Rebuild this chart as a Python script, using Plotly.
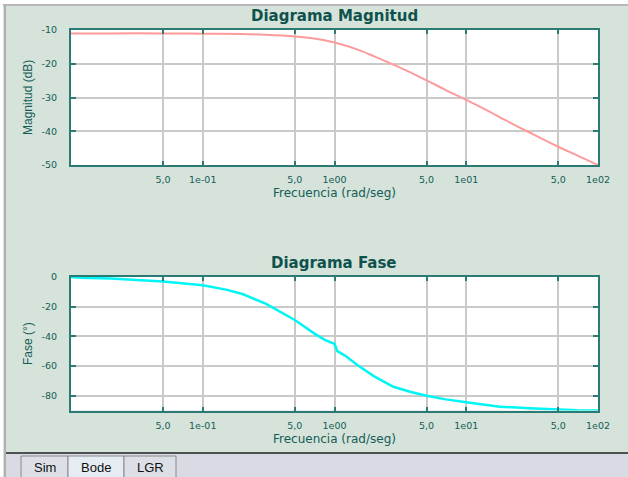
import plotly.graph_objects as go

# ---------------- data ----------------
mag_freq = [0.01, 0.02, 0.05, 0.1, 0.2, 0.3, 0.5, 0.7, 1.0, 1.5, 2, 3, 5, 7, 10, 15, 20, 30, 50, 70, 100]
mag_db = [-11.0, -11.0, -11.0, -11.1, -11.2, -11.4, -11.9, -12.5, -13.7, -15.8, -17.8, -20.8,
          -24.9, -27.8, -30.7, -34.2, -36.8, -40.3, -44.6, -47.2, -50.0]

phase_freq = [0.01, 0.012, 0.02, 0.05, 0.1, 0.15, 0.2, 0.3, 0.5, 0.7, 0.85, 1.0, 1.05, 1.2, 1.5,
              2, 2.8, 3.8, 5, 7, 10, 18, 30, 50, 70, 100]
phase_deg = [0, -0.5, -1, -3, -5.5, -8.5, -11.5, -18, -29, -38, -42.5, -45, -50, -53, -59.5,
             -67, -74, -77.5, -80, -82.5, -84.5, -87.4, -88.5, -89.5, -89.8, -90]

x_tickvals = [0.05, 0.1, 0.5, 1, 5, 10, 50, 100]
x_ticktext = ["5,0", "1e-01", "5,0", "1e00", "5,0", "1e01", "5,0", "1e02"]
mag_ticks = [-10, -20, -30, -40, -50]
mag_ticktext = ["-10", "-20", "-30", "-40", "-50"]
phase_ticks = [0, -20, -40, -60, -80]
phase_ticktext = ["0", "-20", "-40", "-60", "-80"]

# ---------------- geometry helpers ----------------
W, H = 628, 477
def px(x):
    return x / W
def py(y):
    return 1 - y / H

PANEL = "#d5e3da"
TEAL = "#2b7a73"
TXT = "#145c56"
GRID = "#c9c9c9"

fig = go.Figure()
fig.add_trace(go.Scatter(x=mag_freq, y=mag_db, mode="lines", line=dict(color="#ff9a9a", width=2, shape="spline"),
                         xaxis="x", yaxis="y", hoverinfo="skip", showlegend=False))
fig.add_trace(go.Scatter(x=phase_freq, y=phase_deg, mode="lines", line=dict(color="#00f5f5", width=2.5),
                         xaxis="x2", yaxis="y2", hoverinfo="skip", showlegend=False))

tickfont = dict(family="DejaVu Sans", size=9.5, color=TXT)
def xaxis(dom_y_anchor):
    return dict(type="log", range=[-2, 2], domain=[px(71), px(598)], anchor=dom_y_anchor,
                tickvals=x_tickvals, ticktext=x_ticktext, tickfont=tickfont,
                showgrid=True, gridcolor=GRID, gridwidth=1.5,
                showline=True, linecolor=TEAL, linewidth=2, mirror="ticks",
                ticks="inside", ticklen=4, tickcolor=TEAL, tickwidth=2,
                ticklabelstandoff=5, zeroline=False, fixedrange=True, automargin=False)

def yaxis(rng, ticks, text, dom, xanchor):
    return dict(range=rng, domain=dom, anchor=xanchor, tickvals=ticks, ticktext=text, tickfont=tickfont,
                showgrid=True, gridcolor=GRID, gridwidth=1.5,
                showline=True, linecolor=TEAL, linewidth=2, mirror="ticks",
                ticks="inside", ticklen=5, tickcolor=TEAL, tickwidth=2,
                ticklabelstandoff=10, zeroline=False, fixedrange=True, automargin=False)

shapes = []
# outer page edges and borders
shapes.append(dict(type="rect", xref="paper", yref="paper", x0=0, x1=1, y0=py(4), y1=1,
                   fillcolor="white", line_width=0, layer="below"))
shapes.append(dict(type="rect", xref="paper", yref="paper", x0=0, x1=px(3), y0=0, y1=1,
                   fillcolor="white", line_width=0, layer="below"))
shapes.append(dict(type="line", xref="paper", yref="paper", x0=px(3), x1=1, y0=py(5), y1=py(5),
                   line=dict(color="#b8b8b8", width=2)))
shapes.append(dict(type="line", xref="paper", yref="paper", x0=px(5), x1=px(5), y0=0, y1=py(5),
                   line=dict(color="#b0b0b0", width=2)))
# tab strip
shapes.append(dict(type="rect", xref="paper", yref="paper", x0=px(6), x1=1, y0=0, y1=py(453),
                   fillcolor="#d8dbe3", line_width=0))
shapes.append(dict(type="line", xref="paper", yref="paper", x0=px(6), x1=1, y0=py(453), y1=py(453),
                   line=dict(color="#222222", width=1.5)))
tabs = [("Sim", 21, 68, "#dcdfe6"), ("Bode", 68, 124, "#e6ecf3"), ("LGR", 124, 176, "#dcdfe6")]
annotations = []
for name, x0, x1, col in tabs:
    shapes.append(dict(type="rect", xref="paper", yref="paper", x0=px(x0), x1=px(x1), y0=py(478), y1=py(456),
                       fillcolor=col, line=dict(color="#8a8a8a", width=1)))
    annotations.append(dict(text=name, x=px((x0 + x1) / 2), y=py(467), xref="paper", yref="paper",
                            showarrow=False, font=dict(family="Liberation Sans", size=13, color="#111111"),
                            xanchor="center", yanchor="middle"))

title_font = dict(family="DejaVu Sans", size=15, color="#0f524d", weight="bold")
axis_font = dict(family="DejaVu Sans", size=12, color=TXT)
yaxis_font = dict(family="Liberation Sans", size=12, color=TXT)
annotations += [
    dict(text="Diagrama Magnitud", x=px(334), y=py(16), xref="paper", yref="paper", showarrow=False,
         font=title_font, xanchor="center", yanchor="middle"),
    dict(text="Diagrama Fase", x=px(334), y=py(263), xref="paper", yref="paper", showarrow=False,
         font=title_font, xanchor="center", yanchor="middle"),
    dict(text="Frecuencia (rad/seg)", x=px(334), y=py(193), xref="paper", yref="paper", showarrow=False,
         font=axis_font, xanchor="center", yanchor="middle"),
    dict(text="Frecuencia (rad/seg)", x=px(334), y=py(439), xref="paper", yref="paper", showarrow=False,
         font=axis_font, xanchor="center", yanchor="middle"),
    dict(text="Magnitud (dB)", x=px(28), y=py(97), xref="paper", yref="paper", showarrow=False,
         font=yaxis_font, textangle=-90, xanchor="center", yanchor="middle"),
    dict(text="Fase (°)", x=px(28), y=py(343), xref="paper", yref="paper", showarrow=False,
         font=yaxis_font, textangle=-90, xanchor="center", yanchor="middle"),
]

fig.update_layout(
    width=W, height=H, margin=dict(l=0, r=0, t=0, b=0),
    paper_bgcolor=PANEL, plot_bgcolor="white",
    xaxis=xaxis("y"),
    yaxis=yaxis([-50, -10], mag_ticks, mag_ticktext, [py(165), py(30)], "x"),
    xaxis2=xaxis("y2"),
    yaxis2=yaxis([-90, 0], phase_ticks, phase_ticktext, [py(410.5), py(277)], "x2"),
    shapes=shapes, annotations=annotations, showlegend=False,
)

fig.write_html("out.html", config={"displayModeBar": False})
